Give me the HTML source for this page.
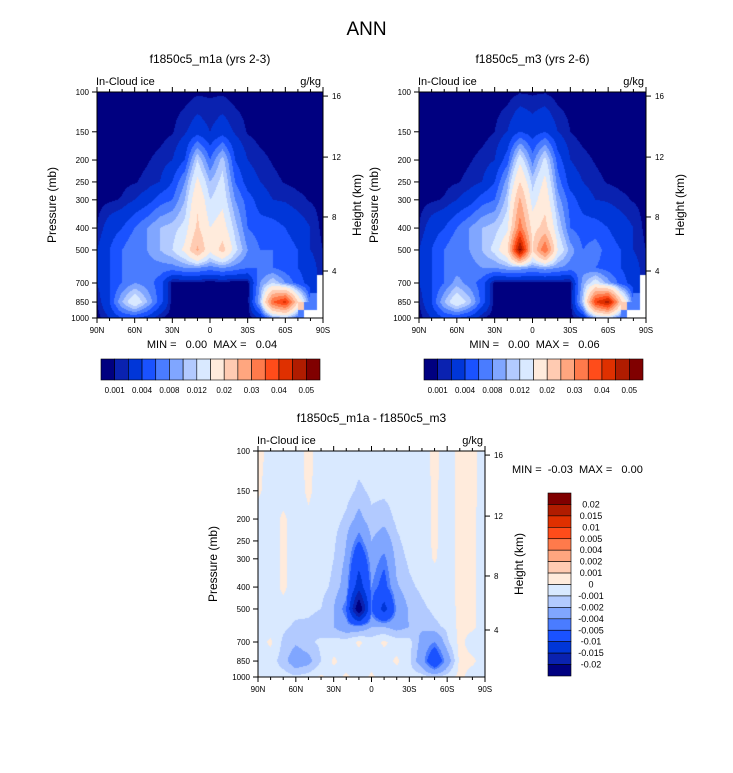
<!DOCTYPE html>
<html><head><meta charset="utf-8">
<style>
body{margin:0;background:#fff;width:733px;height:773px;position:relative;overflow:hidden;font-family:"Liberation Sans",sans-serif;color:#000}
.t{position:absolute;white-space:nowrap}
canvas{position:absolute}
svg{position:absolute;left:0;top:0}
</style></head><body>
<div class="t" style="left:0;width:733px;text-align:center;top:19px;font-size:19px">ANN</div>
<canvas id="c1" width="226" height="226" style="left:97px;top:92px"></canvas>
<canvas id="c2" width="227" height="226" style="left:419px;top:92px"></canvas>
<canvas id="c3" width="227" height="226" style="left:258px;top:451px"></canvas>
<svg id="ov" width="733" height="773"></svg>
<script>
const lats=[90,80,70,60,50,40,30,20,10,0,-10,-20,-30,-40,-50,-60,-70,-80,-90];
const plevs=[100,150,200,250,300,400,500,600,700,850,1000];
const levels1=[0.001,0.002,0.004,0.006,0.008,0.01,0.012,0.015,0.02,0.025,0.03,0.035,0.04,0.045,0.05];
const levelsD=[-0.02,-0.015,-0.01,-0.005,-0.004,-0.002,-0.001,0,0.001,0.002,0.004,0.005,0.01,0.015,0.02];
const cbLabels1=["0.001","0.004","0.008","0.012","0.02","0.03","0.04","0.05"];
const cbLabelsD=["0.02","0.015","0.01","0.005","0.004","0.002","0.001","0","-0.001","-0.002","-0.004","-0.005","-0.01","-0.015","-0.02"];
const pTicks=[100,150,200,250,300,400,500,700,850,1000];
const latLabels=["90N","60N","30N","0","30S","60S","90S"];
const hkmLabels=["16","12","8","4"];
const colors=["#000080","#0a22b0","#0036d8","#1a52ff","#4a7cff","#80a6ff","#b2caff","#d9e9ff","#ffebdc","#ffcbb2","#ffa67f","#ff7a4b","#ff4c1a","#df3000","#b01c00","#800000"];
const N=null;
const m1a=[
[.0005,.0005,.0005,.0005,.0005,.0005,.0005,.0005,.0008,.0008,.0008,.0005,.0005,.0005,.0005,.0005,.0005,.0005,.0005],
[.0005,.0005,.0005,.0005,.0005,.0006,.0009,.0018,.003,.002,.003,.0018,.0009,.0006,.0005,.0005,.0005,.0005,.0005],
[.0005,.0005,.0005,.0006,.0009,.0013,.002,.004,.012,.006,.011,.004,.002,.0013,.0009,.0006,.0005,.0005,.0005],
[.0005,.0006,.0007,.0009,.0013,.002,.004,.008,.016,.01,.013,.006,.003,.002,.0013,.0009,.0007,.0006,.0005],
[.0006,.0008,.0011,.002,.003,.005,.006,.01,.019,.012,.014,.008,.005,.003,.002,.0018,.0013,.0009,.0006],
[.001,.003,.004,.006,.008,.01,.011,.013,.021,.015,.017,.011,.006,.005,.005,.004,.003,.002,.0006],
[.002,.004,.006,.008,.008,.01,.012,.016,.026,.016,.022,.013,.008,.006,.006,.005,.004,.002,.001],
[.002,.004,.006,.007,.007,.007,.007,.008,.008,.007,.008,.007,.006,.006,.006,.005,.004,.003,.001],
[.002,.004,.006,.008,.007,.005,.0004,.0003,.0003,.0003,.0003,.0003,.0004,.008,.012,.008,.005,.003,N],
[.001,.004,.01,.015,.01,.005,.0004,.0003,.0003,.0003,.0003,.0003,.0004,.01,.035,.042,.02,.006,N],
[.0005,.002,.004,.004,.003,.001,.0004,.0003,.0003,.0003,.0003,.0003,.0004,.002,.008,.01,.006,N,N]];
const m3=[
[.0005,.0005,.0005,.0005,.0005,.0005,.0005,.0005,.0009,.0008,.0009,.0005,.0005,.0005,.0005,.0005,.0005,.0005,.0005],
[.0005,.0005,.0005,.0005,.0005,.0006,.001,.002,.004,.003,.004,.002,.001,.0006,.0005,.0005,.0005,.0005,.0005],
[.0005,.0005,.0005,.0006,.0009,.0013,.002,.005,.014,.007,.013,.005,.002,.0013,.0009,.0006,.0005,.0005,.0005],
[.0005,.0006,.0007,.0009,.0013,.002,.004,.009,.02,.011,.016,.007,.003,.002,.0013,.0009,.0007,.0006,.0005],
[.0006,.0008,.0011,.002,.003,.005,.006,.011,.026,.013,.018,.009,.005,.003,.002,.0018,.0013,.0009,.0006],
[.001,.003,.004,.006,.008,.01,.011,.014,.033,.018,.022,.012,.006,.005,.005,.004,.003,.002,.0006],
[.002,.004,.006,.008,.008,.01,.013,.019,.052,.02,.035,.015,.009,.006,.007,.005,.004,.002,.001],
[.002,.004,.006,.007,.007,.008,.008,.009,.009,.008,.009,.008,.007,.007,.006,.005,.004,.003,.001],
[.002,.004,.006,.009,.007,.005,.0004,.0003,.0003,.0003,.0003,.0003,.0004,.009,.014,.009,.005,.003,N],
[.001,.004,.01,.015,.011,.005,.0004,.0003,.0003,.0003,.0003,.0003,.0004,.011,.04,.048,.022,.006,N],
[.0005,.002,.004,.004,.003,.001,.0004,.0003,.0003,.0003,.0003,.0003,.0004,.002,.009,.011,.006,N,N]];
const diff=[
[.0003,-.0003,-.0005,-.0005,.0003,-.0005,-.0005,-.0005,-.0005,-.0005,-.0005,-.0005,-.0005,-.0005,.0003,-.0005,.0003,.0003,-.0005],
[.0002,-.0005,-.0005,-.0005,.0002,-.0005,-.0005,-.0006,-.0012,-.0008,-.0008,-.0006,-.0005,-.0005,.0002,-.0005,.0003,.0003,-.0005],
[-.0005,-.0005,.0002,-.0005,-.0002,-.0005,-.0006,-.0012,-.0025,-.0012,-.0015,-.0008,-.0005,-.0005,.0002,-.0005,.0003,.0002,-.0005],
[-.0005,-.0005,.0002,-.0005,-.0002,-.0005,-.0008,-.002,-.005,-.002,-.003,-.0012,-.0006,-.0005,.0002,-.0005,.0003,.0002,-.0005],
[-.0005,-.0005,.0002,-.0005,-.0003,-.0005,-.001,-.0022,-.008,-.003,-.0045,-.0015,-.0008,-.0005,.0001,-.0005,.0003,.0002,-.0005],
[-.0005,-.0005,.0002,-.0005,-.0005,-.0007,-.0012,-.0028,-.013,-.004,-.006,-.0022,-.0012,-.0008,-.0005,-.0005,.0003,.0002,-.0005],
[-.0005,-.0005,-.0003,-.0007,-.0008,-.001,-.002,-.005,-.026,-.005,-.012,-.0035,-.0018,-.0012,-.0008,-.0006,.0003,.0002,-.0005],
[-.0005,-.0006,-.0008,-.0012,-.0012,-.0015,-.002,-.003,-.003,-.002,-.002,-.0025,-.002,-.0018,-.0012,-.0008,.0003,.0002,-.0005],
[-.0005,.0002,-.0012,-.0018,-.0012,-.0008,-.0006,-.0005,.0002,-.0005,.0002,-.0005,-.0006,-.0025,-.004,-.0012,.0003,-.0005,-.0005],
[-.0005,-.0005,-.0015,-.003,-.0025,-.001,.0002,-.0005,-.0005,-.0005,-.0005,.0002,-.0008,-.003,-.008,-.003,.0003,.0002,-.0005],
[.0001,-.0005,-.0005,-.0008,-.0005,.0002,-.0005,.0002,-.0005,.0002,-.0005,-.0005,-.0005,-.0005,-.0008,-.0005,.0003,-.0005,-.0005]];

const LP=plevs.map(p=>Math.log10(p));
function colorIdx(v,lev){let i=0;while(i<lev.length&&v>=lev[i])i++;return i;}
function hex(c){return [parseInt(c.slice(1,3),16),parseInt(c.slice(3,5),16),parseInt(c.slice(5,7),16)];}
const rgb=colors.map(hex);
function drawField(id,data,lev){
  const cv=document.getElementById(id),ctx=cv.getContext('2d');
  const W=cv.width,H=cv.height,img=ctx.createImageData(W,H);
  for(let y=0;y<H;y++){
    const lp=2+(y+0.5)/H; let j=0; while(j<LP.length-2&&lp>LP[j+1])j++;
    const fy=Math.min(1,Math.max(0,(lp-LP[j])/(LP[j+1]-LP[j])));
    for(let x=0;x<W;x++){
      const lat=90-(x+0.5)/W*180; let i=0; while(i<lats.length-2&&lat<lats[i+1])i++;
      const fx=(lats[i]-lat)/(lats[i]-lats[i+1]);
      const a=data[j][i],b=data[j][i+1],c=data[j+1][i],d=data[j+1][i+1];
      const k=(y*W+x)*4; let col;
      if(a===null||b===null||c===null||d===null){
        const nv=data[fy<.5?j:j+1][fx<.5?i:i+1];
        if(nv===null){img.data[k]=255;img.data[k+1]=255;img.data[k+2]=255;img.data[k+3]=255;continue;}
        col=rgb[colorIdx(nv,lev)];
      } else {
        const v=(a*(1-fx)+b*fx)*(1-fy)+(c*(1-fx)+d*fx)*fy;
        col=rgb[colorIdx(v,lev)];
      }
      img.data[k]=col[0];img.data[k+1]=col[1];img.data[k+2]=col[2];img.data[k+3]=255;
    }
  }
  ctx.putImageData(img,0,0);
}
drawField('c1',m1a,levels1);
drawField('c2',m3,levels1);
drawField('c3',diff,levelsD);

const NS='http://www.w3.org/2000/svg', ov=document.getElementById('ov');
function el(tag,attrs,parent){const e=document.createElementNS(NS,tag);for(const k in attrs)e.setAttribute(k,attrs[k]);(parent||ov).appendChild(e);return e;}
function txt(x,y,s,size,anchor,parent,extra){const e=el('text',Object.assign({x:x,y:y,'font-size':size,'text-anchor':anchor||'middle','font-family':'Liberation Sans, sans-serif'},extra||{}),parent);e.textContent=s;e.style.whiteSpace='pre';return e;}
const hkmFrac=[0.018,0.288,0.553,0.792];
function axes(L,T,W,H,name,title,minmax){
  const g=el('g',{});
  
  
  el('rect',{x:L,y:T,width:W,height:H,fill:'none',stroke:'#000','stroke-width':1},g);
  pTicks.forEach(p=>{const y=T+(Math.log10(p)-2)*H;
    el('line',{x1:L-5,x2:L,y1:y,y2:y,stroke:'#000'},g);
    const t=txt(L-8,y+3,String(p),8,'end',g);
    
    });
  hkmLabels.forEach((s,i)=>{const y=T+hkmFrac[i]*H;
    el('line',{x1:L+W,x2:L+W+5,y1:y,y2:y,stroke:'#000'},g);
    const t=txt(L+W+9,y+3,s,8,'start',g);
    
    });
  for(let k=0;k<=18;k++){const x=L+k/18*W,len=(k%3==0)?5:3;
    el('line',{x1:x,x2:x,y1:T+H,y2:T+H+len,stroke:'#000'},g);
    el('line',{x1:x,x2:x,y1:T,y2:T-len,stroke:'#000'},g);}
  latLabels.forEach((s,i)=>{const t=txt(L+i/6*W,T+H+15,s,8,'middle',g);
    
    });
  const a=txt(L-1,T-7,'In-Cloud ice',11,'start',g);
  
  
  const u=txt(L+W-2,T-7,'g/kg',11,'end',g);
  
  
  const yt=txt(0,0,'Pressure (mb)',12,'middle',g,{transform:'translate('+(L-41)+','+(T+H/2)+') rotate(-90)'});
  
  
  const ht=txt(0,0,'Height (km)',12,'middle',g,{transform:'translate('+(L+W+38)+','+(T+H/2)+') rotate(-90)'});
  
  
  const ti=txt(L+W/2,T-29,title,12,'middle',g);
  
  
  if(minmax){const m=txt(L+W/2+2,T+H+30,minmax,11,'middle',g);
    
    }
}
axes(97,92,226,226,'panel-m1a','f1850c5_m1a (yrs 2-3)','MIN =   0.00  MAX =   0.04');
axes(419,92,227,226,'panel-m3','f1850c5_m3 (yrs 2-6)','MIN =   0.00  MAX =   0.06');
axes(258,451,227,226,'panel-diff','f1850c5_m1a - f1850c5_m3',null);
const mm=txt(512,473,'MIN =  -0.03  MAX =   0.00',11,'start',ov);



function hbar(L,T,W,H,name){
  const g=el('g',{});
  
  
  const n=colors.length,bw=W/n;
  colors.forEach((c,i)=>el('rect',{x:L+i*bw,y:T,width:bw,height:H,fill:c,stroke:'#000','stroke-width':0.6},g));
  cbLabels1.forEach((s,i)=>{const t=txt(L+(1+2*i)*bw,T+H+13,s,8,'middle',g);
    
    });
}
hbar(101,359,219,21,'colorbar-m1a');
hbar(424,359,219,21,'colorbar-m3');
(function(){
  const L=548,T=493,W=23,H=183,n=colors.length,bh=H/n;
  const g=el('g',{});
  
  
  colors.slice().reverse().forEach((c,i)=>el('rect',{x:L,y:T+i*bh,width:W,height:bh,fill:c,stroke:'#000','stroke-width':0.6},g));
  cbLabelsD.forEach((s,i)=>{const t=txt(L+W+20,T+(i+1)*bh+3,s,9,'middle',g);
    
    });
})();
</script>
</body></html>
